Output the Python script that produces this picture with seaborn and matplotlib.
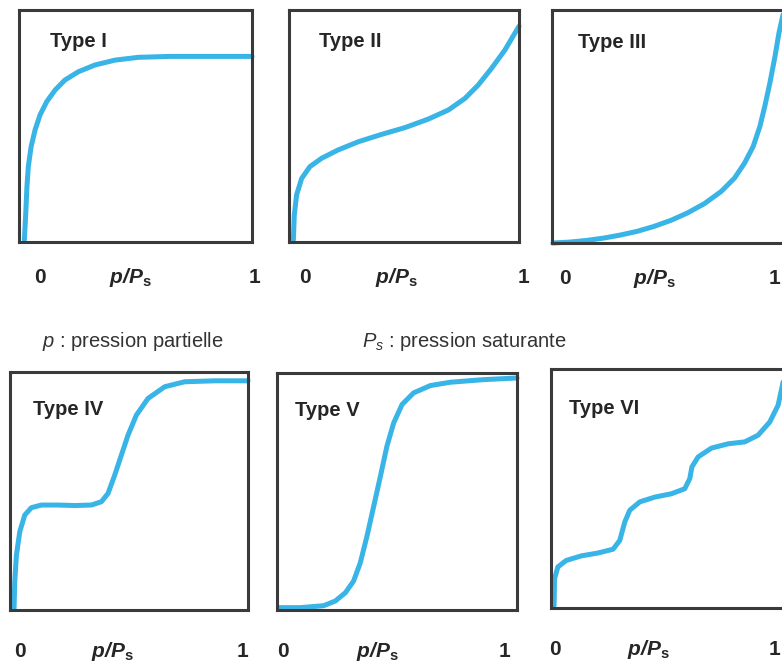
import matplotlib
matplotlib.use("Agg")
import matplotlib.pyplot as plt
import matplotlib.transforms as mtransforms
import seaborn as sns

# curves (x = p/Ps, y = amount adsorbed, both 0..1)
type_i_x = [0.023, 0.029, 0.034, 0.040, 0.052, 0.069, 0.090, 0.119, 0.155, 0.197, 0.255, 0.326, 0.412, 0.512, 0.65, 0.80, 1.0]
type_i_y = [0.009, 0.124, 0.238, 0.325, 0.411, 0.483, 0.547, 0.605, 0.655, 0.698, 0.734, 0.763, 0.784, 0.796, 0.80, 0.80, 0.80]

type_ii_x = [0.019, 0.023, 0.033, 0.055, 0.091, 0.142, 0.214, 0.301, 0.403, 0.504, 0.606, 0.693, 0.765, 0.823, 0.881, 0.939, 1.0]
type_ii_y = [0.009, 0.116, 0.203, 0.274, 0.325, 0.361, 0.397, 0.432, 0.464, 0.493, 0.530, 0.569, 0.619, 0.677, 0.749, 0.828, 0.93]

type_iii_x = [0.004, 0.077, 0.149, 0.222, 0.294, 0.367, 0.439, 0.512, 0.584, 0.657, 0.729, 0.787, 0.830, 0.867, 0.896, 0.917, 0.939, 0.961, 0.978, 0.997]
type_iii_y = [0.0, 0.004, 0.011, 0.021, 0.034, 0.050, 0.071, 0.097, 0.129, 0.169, 0.221, 0.279, 0.343, 0.414, 0.50, 0.586, 0.686, 0.80, 0.90, 0.986]

type_iv_x = [0.017, 0.020, 0.027, 0.041, 0.062, 0.090, 0.132, 0.202, 0.272, 0.342, 0.384, 0.412, 0.440, 0.468, 0.496, 0.531, 0.580, 0.650, 0.734, 0.860, 1.0]
type_iv_y = [0.007, 0.119, 0.231, 0.329, 0.399, 0.430, 0.441, 0.441, 0.439, 0.441, 0.455, 0.490, 0.567, 0.651, 0.735, 0.819, 0.889, 0.938, 0.959, 0.963, 0.963]

type_v_x = [0.007, 0.097, 0.194, 0.243, 0.285, 0.319, 0.347, 0.375, 0.403, 0.431, 0.458, 0.486, 0.521, 0.569, 0.639, 0.722, 0.861, 1.0]
type_v_y = [0.01, 0.01, 0.018, 0.038, 0.073, 0.122, 0.199, 0.312, 0.438, 0.565, 0.691, 0.789, 0.867, 0.916, 0.947, 0.961, 0.972, 0.979]

type_vi_x = [0.013, 0.015, 0.029, 0.064, 0.127, 0.197, 0.261, 0.289, 0.310, 0.331, 0.373, 0.436, 0.506, 0.562, 0.583, 0.592, 0.618, 0.674, 0.744, 0.814, 0.870, 0.919, 0.954, 0.972, 0.985]
type_vi_y = [0.011, 0.123, 0.172, 0.199, 0.218, 0.230, 0.246, 0.283, 0.360, 0.409, 0.444, 0.464, 0.478, 0.499, 0.541, 0.590, 0.632, 0.669, 0.687, 0.695, 0.723, 0.778, 0.848, 0.93, 1.0]

titles = ["Type I", "Type II", "Type III", "Type IV", "Type V", "Type VI"]
curves = [(type_i_x, type_i_y), (type_ii_x, type_ii_y), (type_iii_x, type_iii_y),
          (type_iv_x, type_iv_y), (type_v_x, type_v_y), (type_vi_x, type_vi_y)]
tick_labels = ["0", r"$\mathbfit{p/P}_{\mathbf{s}}$", "1"]

sns.set_style("white")
plt.rcParams["font.family"] = ["Liberation Sans", "DejaVu Sans"]
plt.rcParams["mathtext.fontset"] = "custom"
plt.rcParams["mathtext.rm"] = "Liberation Sans"
plt.rcParams["mathtext.it"] = "Liberation Sans:italic"
plt.rcParams["mathtext.bf"] = "Liberation Sans:bold"
plt.rcParams["mathtext.bfit"] = "Liberation Sans:italic:bold"

W, H = 782, 666
# panel boxes in pixels: left, top, right, bottom
boxes = [(19, 10, 252, 242), (289, 10, 519, 242), (552, 10, 784, 243),
         (10, 372, 248, 610), (277, 373, 517, 610), (551, 369, 789, 608)]
# title anchor (axes fraction) and label x positions (data) per panel
title_pos = [(0.133, 0.84), (0.13, 0.84), (0.11, 0.835), (0.097, 0.82), (0.075, 0.82), (0.076, 0.81)]
label_x = [(0.09, 0.48, 1.01), (0.07, 0.465, 1.02), (0.056, 0.44, 0.957),
           (0.04, 0.43, 0.975), (0.025, 0.42, 0.95), (0.017, 0.41, 0.937)]
label_y = [-0.177, -0.177, -0.177, -0.197, -0.197, -0.197]

blue = "#38b4e6"
dark = "#262626"

fig = plt.figure(figsize=(W / 100, H / 100), dpi=100)

for i, (l, t, r, b) in enumerate(boxes):
    ax = fig.add_axes([l / W, (H - b) / H, (r - l) / W, (b - t) / H])
    x, y = curves[i]
    sns.lineplot(x=x, y=y, ax=ax, sort=False, color=blue, linewidth=3.6,
                 estimator=None)
    for line in ax.lines:
        line.set_clip_on(False)
        line.set_solid_capstyle("round")
        line.set_solid_joinstyle("round")
    ax.set_xlim(0, 1)
    ax.set_ylim(0, 1)
    ax.set_xticks([])
    ax.set_yticks([])
    for s in ax.spines.values():
        s.set_visible(True)
        s.set_color("#3a3a3a")
        s.set_linewidth(2.2)
    tx, ty = title_pos[i]
    ax.text(tx, ty, titles[i], transform=ax.transAxes, fontsize=14.5,
            fontweight="bold", color=dark, va="baseline", ha="left")
    trans = mtransforms.blended_transform_factory(ax.transData, ax.transAxes)
    for xv, lab in zip(label_x[i], tick_labels):
        ax.text(xv, label_y[i], lab, transform=trans, ha="center", va="baseline",
                fontsize=15, fontweight="bold", color=dark)

fig.text(42 / W, (H - 347) / H, r"$p$ : pression partielle", fontsize=14.5,
         color="#333333", va="baseline", ha="left")
fig.text(362 / W, (H - 347) / H, r"$P_s$ : pression saturante", fontsize=14.5,
         color="#333333", va="baseline", ha="left")

plt.savefig("out.png", dpi=100)
